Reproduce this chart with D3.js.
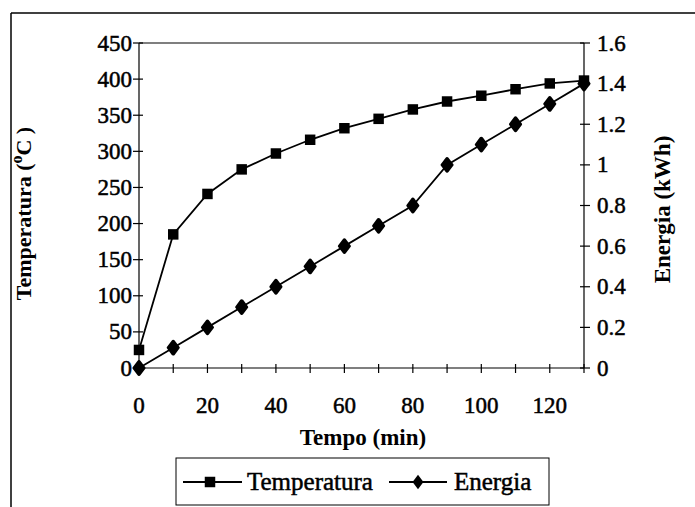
<!DOCTYPE html>
<html><head><meta charset="utf-8">
<script src="https://cdn.jsdelivr.net/npm/d3@7"></script>
<style>body{margin:0;background:#fff}svg{display:block}</style>
</head><body>
<script>
const tempo = [0,10,20,30,40,50,60,70,80,90,100,110,120,130];
const temperatura = [25,185,241,275,297,316,332,345,358,369,377,386,394,398];
const energia = [0,0.1,0.2,0.3,0.4,0.5,0.6,0.7,0.8,1.0,1.1,1.2,1.3,1.4];
const leftTicks = [0,50,100,150,200,250,300,350,400,450];
const rightTicks = [0,0.2,0.4,0.6,0.8,1,1.2,1.4,1.6];
const xTicksMajor = [0,20,40,60,80,100,120];
const xTicksAll = [0,10,20,30,40,50,60,70,80,90,100,110,120,130];

const W=695,H=507;
const FONT="'Liberation Serif', serif";
const svg=d3.select("body").append("svg").attr("width",W).attr("height",H)
  .attr("font-family",FONT);
const L=139,R=584,T=43,B=368;
const x=d3.scaleLinear().domain([0,130]).range([L,R]);
const yL=d3.scaleLinear().domain([0,450]).range([B,T]);
const yR=d3.scaleLinear().domain([0,1.6]).range([B,T]);

// outer border (partial, as in scan)
svg.append("line").attr("x1",11).attr("x2",W).attr("y1",13).attr("y2",13).attr("stroke","#000").attr("stroke-width",1.5);
svg.append("line").attr("x1",11).attr("x2",11).attr("y1",13).attr("y2",H).attr("stroke","#000").attr("stroke-width",1.5);

// plot frame top
svg.append("line").attr("x1",L).attr("x2",R).attr("y1",T).attr("y2",T).attr("stroke","#000").attr("stroke-width",1.2);

// axes
const ax=svg.append("g").attr("stroke","#000").attr("stroke-width",1.2);
ax.append("line").attr("x1",L).attr("x2",L).attr("y1",T).attr("y2",B);
ax.append("line").attr("x1",R).attr("x2",R).attr("y1",T).attr("y2",B);
ax.append("line").attr("x1",L).attr("x2",R).attr("y1",B).attr("y2",B);
leftTicks.forEach(v=>{ax.append("line").attr("x1",L-6).attr("x2",L+4).attr("y1",yL(v)).attr("y2",yL(v));});
rightTicks.forEach(v=>{ax.append("line").attr("x1",R-4).attr("x2",R+6).attr("y1",yR(v)).attr("y2",yR(v));});
xTicksAll.forEach(v=>{ax.append("line").attr("x1",x(v)).attr("x2",x(v)).attr("y1",B-4).attr("y2",B+5);});

const tf=23;
const heavy=s=>s.attr("stroke","#000").attr("stroke-width",0.5);
svg.append("g").call(heavy).selectAll("text").data(leftTicks).join("text")
  .attr("x",L-7).attr("y",d=>yL(d)).attr("dy","0.33em").attr("text-anchor","end")
  .attr("font-size",tf).text(d=>d);
svg.append("g").call(heavy).selectAll("text").data(rightTicks).join("text")
  .attr("x",R+13).attr("y",d=>yR(d)).attr("dy","0.33em").attr("text-anchor","start")
  .attr("font-size",tf).text(d=>d);
svg.append("g").call(heavy).selectAll("text").data(xTicksMajor).join("text")
  .attr("x",d=>x(d)).attr("y",B+45).attr("text-anchor","middle")
  .attr("font-size",tf).text(d=>d);

// axis titles
const yt=svg.append("text").attr("transform",`translate(31,${(T+B)/2+8}) rotate(-90)`)
  .attr("text-anchor","middle").attr("font-size",22).attr("font-weight","bold");
yt.append("tspan").text("Temperatura (");
yt.append("tspan").attr("font-size",16).attr("dy",-9).text("o");
yt.append("tspan").attr("dy",9).text("C )");
svg.append("text").attr("transform",`translate(670,${(T+B)/2+4}) rotate(-90)`)
  .attr("text-anchor","middle").attr("font-size",23).attr("font-weight","bold").text("Energia (kWh)");
svg.append("text").attr("x",363).attr("y",445).attr("text-anchor","middle")
  .attr("font-size",23).attr("font-weight","bold").text("Tempo (min)");

// series
const lineT=d3.line().x((d,i)=>x(tempo[i])).y(d=>yL(d));
const lineE=d3.line().x((d,i)=>x(tempo[i])).y(d=>yR(d));
svg.append("path").attr("d",lineT(temperatura)).attr("fill","none").attr("stroke","#000").attr("stroke-width",1.8);
svg.append("path").attr("d",lineE(energia)).attr("fill","none").attr("stroke","#000").attr("stroke-width",1.8);
const sq=d3.symbol().type(d3.symbolSquare).size(110);
const dm=d3.symbol().type(d3.symbolDiamond).size(50);
svg.append("g").selectAll("path").data(temperatura).join("path")
  .attr("transform",(d,i)=>`translate(${x(tempo[i])},${yL(d)})`).attr("d",sq).attr("fill","#000");
svg.append("g").selectAll("path").data(energia).join("path")
  .attr("transform",(d,i)=>`translate(${x(tempo[i])},${yR(d)}) scale(1.3,1)`).attr("d",dm).attr("fill","#000").attr("stroke","#000").attr("stroke-width",2.5).attr("stroke-linejoin","round");

// legend
const lg=svg.append("g");
lg.append("rect").attr("x",176).attr("y",458).attr("width",373).attr("height",47).attr("fill","none").attr("stroke","#000").attr("stroke-width",1);
const ly=482;
lg.append("line").attr("x1",183).attr("x2",242).attr("y1",ly).attr("y2",ly).attr("stroke","#000").attr("stroke-width",1.8);
lg.append("path").attr("transform",`translate(210,${ly})`).attr("d",sq).attr("fill","#000");
lg.append("text").attr("x",247).attr("y",ly).attr("dy","0.33em").attr("font-size",25).call(heavy).text("Temperatura");
lg.append("line").attr("x1",389).attr("x2",447).attr("y1",ly).attr("y2",ly).attr("stroke","#000").attr("stroke-width",1.8);
lg.append("path").attr("transform",`translate(418,${ly}) scale(1.3,1)`).attr("d",d3.symbol().type(d3.symbolDiamond).size(60)).attr("fill","#000");
lg.append("text").attr("x",454).attr("y",ly).attr("dy","0.33em").attr("font-size",25).call(heavy).text("Energia");
</script>
</body></html>
